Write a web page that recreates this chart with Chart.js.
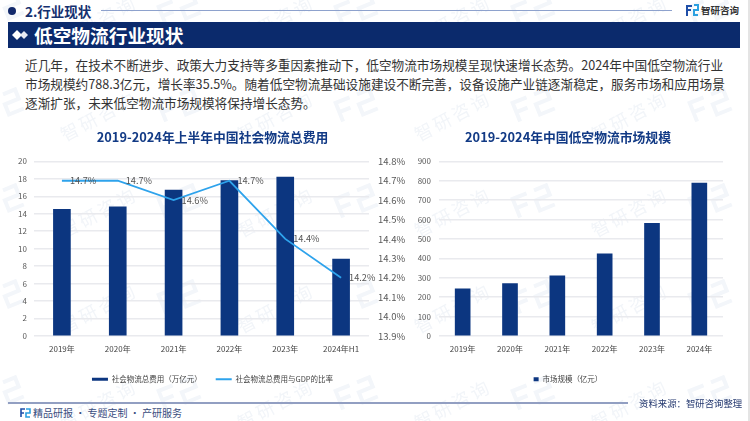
<!DOCTYPE html>
<html lang="zh">
<head>
<meta charset="utf-8">
<title>低空物流行业现状</title>
<script src="https://cdn.jsdelivr.net/npm/chart.js@4/dist/chart.umd.min.js"></script>
<style>
  html, body { margin: 0; padding: 0; }
  body { width: 750px; height: 421px; position: relative; overflow: hidden; background: #fff; font-family: "Noto Sans CJK SC", sans-serif; }
  .abs { position: absolute; white-space: nowrap; }
  #wm { position: absolute; left: 0; top: 0; }
  canvas { position: absolute; }
  .para { left: 25px; font-size: 12.65px; line-height: 18px; color: #333; }
</style>
</head>
<body>
<svg id="wm" width="750" height="421" xmlns="http://www.w3.org/2000/svg">
  <defs>
    <pattern id="tile" x="40" y="-20" width="177" height="96" patternUnits="userSpaceOnUse">
      <g transform="translate(25,66) rotate(-28)" fill="#f2f5f9">
        <text x="0" y="0" font-size="18" font-family="Noto Sans CJK SC" letter-spacing="3">智研咨询</text>
      </g>
      <g transform="translate(135,30) rotate(-22)" fill="none" stroke="#f3f6fa" stroke-width="4">
        <path d="M-14 11V-9H1M-14 1H-2M9 -9H22V1H7V12H23"/>
      </g>
    </pattern>
  </defs>
  <rect width="750" height="421" fill="url(#tile)"/>
</svg>

<div class="abs" style="left:8px;top:7px;width:8px;height:8px;border-radius:50%;background:#12296b"></div>
<div class="abs" style="left:25px;top:1px;font-size:13.5px;font-weight:700;color:#14306f;line-height:20px">2.行业现状</div>
<div class="abs" style="left:101px;top:10px;width:571px;height:1px;background:#8ea2cd"></div>
<svg class="abs" style="left:686px;top:4px" width="13" height="13">
  <path d="M1 12V2H6M1 6H5" fill="none" stroke="#1f4fa8" stroke-width="2"/>
  <path d="M8 1H12V6H8V11H12" fill="none" stroke="#2ba0e0" stroke-width="2"/>
</svg>
<div class="abs" style="left:701px;top:1px;font-size:9.5px;font-weight:700;color:#333;line-height:18px">智研咨询</div>

<div class="abs" style="left:8px;top:22px;width:732px;height:26px;background:#0b2a6c"></div>
<svg class="abs" style="left:12px;top:29px" width="18" height="12">
  <path d="M5 1L10 6L5 11L0 6Z" fill="#fff"/>
  <path d="M12 2L16 6L12 10L8 6Z" fill="#e6e9f2"/>
</svg>
<div class="abs" style="left:34px;top:22px;font-size:18.7px;font-weight:700;color:#fff;line-height:26px">低空物流行业现状</div>

<div class="abs para" style="top:56px">近几年，在技术不断进步、政策大力支持等多重因素推动下，低空物流市场规模呈现快速增长态势。2024年中国低空物流行业</div>
<div class="abs para" style="top:75px">市场规模约788.3亿元，增长率35.5%。随着低空物流基础设施建设不断完善，设备设施产业链逐渐稳定，服务市场和应用场景</div>
<div class="abs para" style="top:94px">逐渐扩张，未来低空物流市场规模将保持增长态势。</div>

<canvas id="costChart" width="395" height="268" style="left:15px;top:129px"></canvas>
<canvas id="marketChart" width="310" height="268" style="left:413px;top:129px"></canvas>

<div class="abs" style="left:8px;top:402px;width:620px;height:2px;background:#929fc2"></div>
<svg class="abs" style="left:20px;top:408px" width="11" height="10">
  <path d="M1 9V1H5M1 5H4" fill="none" stroke="#1f4fa8" stroke-width="1.6"/>
  <path d="M6 1H10V5H6V9H10" fill="none" stroke="#2ba0e0" stroke-width="1.6"/>
</svg>
<div class="abs" style="left:33px;top:405px;font-size:10px;color:#3a4d80;line-height:16px">精品研报 · 专题定制 · 产研服务</div>
<div class="abs" style="left:639px;top:395px;font-size:9.4px;color:#24386f;line-height:16px">资料来源：智研咨询整理</div>
<div class="abs" style="left:748px;top:0;width:2px;height:421px;background:#e4e4e4"></div>

<script>
const costYears = ['2019年', '2020年', '2021年', '2022年', '2023年', '2024年H1'];
const costValues = [14.5, 14.8, 16.7, 17.8, 18.2, 8.8];
const costRatio = [14.7, 14.7, 14.6, 14.7, 14.4, 14.2];
const marketYears = ['2019年', '2020年', '2021年', '2022年', '2023年', '2024年'];
const marketValues = [243, 270, 310, 423, 580, 788.3];

const FONT = '"Noto Sans CJK SC", sans-serif';
const NAVY = '#0c3680';
const BLUE = '#2ea3ec';
const GRID = '#e9eaee';

Chart.defaults.font.family = FONT;
Chart.defaults.devicePixelRatio = 1;

// percent labels to the right of the line points
const ratioLabels = {
  id: 'ratioLabels',
  afterDatasetsDraw(chart) {
    const ctx = chart.ctx;
    const points = chart.getDatasetMeta(1).data;
    ctx.save();
    ctx.font = '9.2px ' + FONT;
    ctx.fillStyle = '#555';
    ctx.textBaseline = 'middle';
    points.forEach((p, i) => {
      ctx.fillText(costRatio[i].toFixed(1) + '%', p.x + 8, p.y);
    });
    ctx.restore();
  }
};

function baseTitle(text) {
  return {
    display: true,
    text: text,
    color: '#123a85',
    font: { size: 12.8, weight: 'bold', family: FONT },
    padding: { top: 0, bottom: 17 }
  };
}

function xAxis() {
  return {
    grid: { display: false, drawTicks: false },
    border: { display: false },
    ticks: { color: '#444', font: { size: 8 }, padding: 8, maxRotation: 0, autoSkip: false }
  };
}

new Chart(document.getElementById('costChart'), {
  data: {
    labels: costYears,
    datasets: [
      {
        type: 'bar', label: '社会物流总费用（万亿元）', data: costValues, yAxisID: 'y',
        backgroundColor: NAVY, barThickness: 17, order: 2, pointStyle: 'rect'
      },
      {
        type: 'line', label: '社会物流总费用与GDP的比率', data: costRatio, yAxisID: 'y1',
        borderColor: BLUE, backgroundColor: BLUE, borderWidth: 1.8, pointRadius: 0,
        tension: 0, order: 1, pointStyle: 'line'
      }
    ]
  },
  options: {
    responsive: false,
    animation: false,
    layout: { padding: { bottom: 4 } },
    plugins: {
      title: baseTitle('2019-2024年上半年中国社会物流总费用'),
      tooltip: { enabled: false },
      legend: {
        position: 'bottom',
        labels: {
          usePointStyle: true, pointStyleWidth: 16, boxHeight: 3,
          color: '#444', font: { size: 7.5 }, padding: 14,
          sort: (a, b) => a.datasetIndex - b.datasetIndex
        }
      }
    },
    scales: {
      x: xAxis(),
      y: {
        position: 'left', min: 0, max: 20,
        grid: { color: GRID, lineWidth: 1.5, drawTicks: false },
        border: { display: false },
        ticks: { stepSize: 2, color: '#595959', font: { size: 8 }, padding: 7 },
        afterFit(scale) { scale.width = 19; }
      },
      y1: {
        position: 'right', min: 13.9, max: 14.8,
        grid: { display: false, drawTicks: false },
        border: { display: false },
        ticks: {
          stepSize: 0.1, color: '#595959', font: { size: 9.5 }, padding: 9,
          callback: v => v.toFixed(1) + '%'
        },
        afterFit(scale) { scale.width = 41; }
      }
    }
  },
  plugins: [ratioLabels]
});

new Chart(document.getElementById('marketChart'), {
  type: 'bar',
  data: {
    labels: marketYears,
    datasets: [{
      label: '市场规模（亿元）', data: marketValues,
      backgroundColor: NAVY, barThickness: 15, pointStyle: 'rect'
    }]
  },
  options: {
    responsive: false,
    animation: false,
    layout: { padding: { bottom: 4 } },
    plugins: {
      title: baseTitle('2019-2024年中国低空物流市场规模'),
      tooltip: { enabled: false },
      legend: {
        position: 'bottom',
        labels: {
          usePointStyle: true, pointStyleWidth: 5, boxHeight: 4,
          color: '#444', font: { size: 7.5 }, padding: 14
        }
      }
    },
    scales: {
      x: xAxis(),
      y: {
        min: 0, max: 900,
        grid: { color: GRID, lineWidth: 1.5, drawTicks: false },
        border: { display: false },
        ticks: { stepSize: 100, color: '#595959', font: { size: 8 }, padding: 8 },
        afterFit(scale) { scale.width = 26; }
      }
    }
  }
});
</script>
</body>
</html>
